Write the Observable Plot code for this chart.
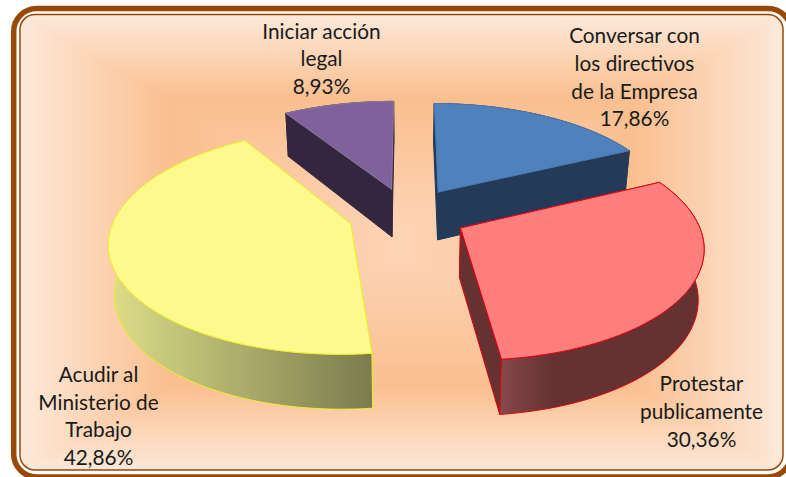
<!DOCTYPE html>
<html lang="es">
<head>
<meta charset="utf-8">
<script src="https://cdn.jsdelivr.net/npm/d3@7"></script>
<script src="https://cdn.jsdelivr.net/npm/@observablehq/plot@0.6"></script>
<style>html,body{margin:0;padding:0;background:#fff}svg{display:block}</style>
</head>
<body>
<div id="chart"></div>
<script>
// Data
const categories = ["Conversar con\nlos directivos\nde la Empresa", "Protestar\npublicamente", "Acudir al\nMinisterio de\nTrabajo", "Iniciar acción\nlegal"];
const values = [17.86, 30.36, 42.86, 8.93];
const percentLabels = ["17,86%", "30,36%", "42,86%", "8,93%"];

// Layout of the perspective pie: centre, radii, explosion, perspective, wall height
const W = 786, H = 477;
const CX = 407, CY = 214, RX = 235, RY = 108, EXPLODE = 0.253, K = 0.15;
const labelX = [634, 701, 98, 321];
const labelY = [75.5, 409.5, 414, 57];
const drawOrder = [3, 0, 2, 1];
const styles = [
  {top: "#4f81bd", side: "#233a59", band: "#233a59", stroke: "#4a78ae", sideStroke: "#233a59"},
  {top: "#ff7e7e", side: "#653231", band: "url(#redBand)", stroke: "#e3000f", sideStroke: "#e3000f"},
  {top: "#fcfa8d", side: "#8a8a52", band: "url(#yellowBand)", stroke: "#eeee33", sideStroke: "#eeee33"},
  {top: "#7f619c", side: "#35263f", band: "#35263f", stroke: "#8b7a9c", sideStroke: "#35263f"}
];

const ux = px => (px - CX) / RX, uy = px => (px - CY) / RY;
const rad = Math.PI / 180;
const total = d3.sum(values);

function project(X, Y, lower) {
  const s = 1 / (1 - K * Y);
  if (!lower) return {x: X * s, y: Y * s};
  return {x: X * s * 0.98, y: Y * s + (49 + 5.5 * Y) / RY};
}

let cum = 0;
const slices = values.map((v, i) => {
  const a0 = cum / total * 360; cum += v;
  const a1 = cum / total * 360;
  const mid = (a0 + a1) / 2 * rad;
  const ox = EXPLODE * Math.sin(mid), oy = -EXPLODE * Math.cos(mid);
  const rim = [];
  for (let a = a0; ; a = Math.min(a + 1.5, a1)) {
    rim.push([ox + Math.sin(a * rad), oy - Math.cos(a * rad)]);
    if (a >= a1) break;
  }
  return {i, apex: [ox, oy], rim};
});

const pts = (arr, lower) => arr.map(([X, Y]) => project(X, Y, lower));
const closed = a => a.concat([a[0]]);
const poly = (data, fill, stroke, strokeWidth) =>
  Plot.line(closed(data), {x: "x", y: "y", fill, stroke: stroke || "none", strokeWidth: strokeWidth || 1, strokeLinejoin: "round"});

const pieMarks = [];
for (const idx of drawOrder) {
  const s = slices[idx], st = styles[idx];
  const first = s.rim[0], last = s.rim[s.rim.length - 1];
  // radial walls
  for (const end of [first, last]) {
    pieMarks.push(poly([...pts([s.apex, end], false), ...pts([end, s.apex], true)], st.side, st.sideStroke));
  }
  // outer band
  pieMarks.push(poly([...pts(s.rim, false), ...pts(s.rim.slice().reverse(), true)], st.band, st.sideStroke));
  // top face
  pieMarks.push(poly(pts([s.apex, ...s.rim], false), st.top, st.stroke));
}

const gradients = () => d3.create("svg:defs").html(`
  <linearGradient id="yellowBand" gradientUnits="userSpaceOnUse" x1="112" x2="372" y1="0" y2="0">
    <stop offset="0" stop-color="#dcdc88"/><stop offset="1" stop-color="#7b7b4e"/>
  </linearGradient>
  <linearGradient id="redBand" gradientUnits="userSpaceOnUse" x1="500" x2="552" y1="0" y2="0">
    <stop offset="0" stop-color="#86484b"/><stop offset="1" stop-color="#653231"/>
  </linearGradient>`).node();

// Rectangular "path" gradient behind the pie
const panel = {left: 20, right: 783, top: 14.5, bottom: 470};
const shade = (x, y) => {
  const px = x * RX + CX, py = y * RY + CY;
  return Math.min(Math.min(px - panel.left, panel.right - px) / 150, Math.min(py - panel.top, panel.bottom - py) / 85);
};

const frame = (l, r, t, b, rx, stroke, strokeWidth) =>
  Plot.rect([0], {x1: () => ux(l), x2: () => ux(r), y1: () => uy(t), y2: () => uy(b), rx, fill: "none", stroke, strokeWidth});

const labels = categories.map((c, i) => ({text: c + "\n" + percentLabels[i], x: ux(labelX[i]), y: uy(labelY[i])}));

const chart = Plot.plot({
  width: W, height: H,
  marginTop: 0, marginRight: 0, marginBottom: 0, marginLeft: 0,
  x: {domain: [ux(0), ux(W)], range: [0, W], axis: null},
  y: {domain: [uy(0), uy(H)], range: [0, H], axis: null},
  color: {type: "linear", domain: [0, 1, 2.6], range: ["#fde9da", "#fabf8f", "#fdd5b7"], interpolate: "rgb", clamp: true},
  style: {background: "#fff"},
  marks: [
    gradients,
    Plot.raster({fill: shade, x1: ux(panel.left), x2: ux(panel.right), y1: uy(panel.top), y2: uy(panel.bottom), pixelSize: 1}),
    frame(panel.left - 10, panel.right + 10, panel.top - 10, panel.bottom + 10, 25, "#fff", 20),
    frame(13.7, 791, 8.5, 477, 23, "#984807", 5.5),
    frame(panel.left, panel.right, panel.top, panel.bottom, 15, "#984807", 1.5),
    ...pieMarks,
    Plot.text(labels, {x: "x", y: "y", text: "text", fontFamily: "Lato", fontSize: 20.8, lineHeight: 1.33, fill: "#1a1a1a", textAnchor: "middle", lineAnchor: "middle"})
  ]
});
document.getElementById("chart").append(chart);
</script>
</body>
</html>
